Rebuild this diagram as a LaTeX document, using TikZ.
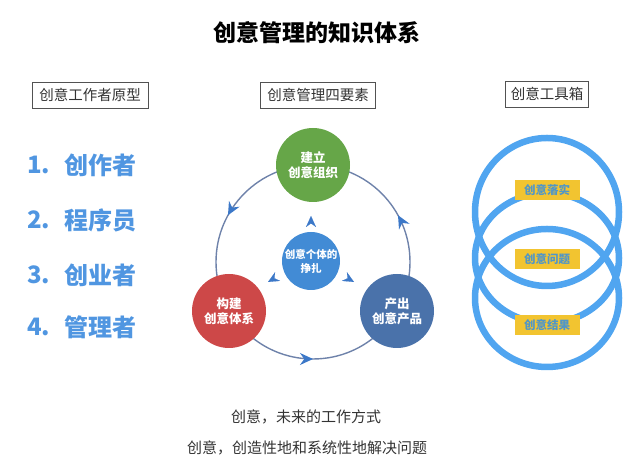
\documentclass[tikz,border=0pt]{standalone}
\usepackage{fontspec}
\setmainfont{Noto Sans CJK SC}
\usetikzlibrary{arrows.meta,decorations.markings}
\definecolor{cgreen}{RGB}{102,166,72}
\definecolor{cred}{RGB}{205,72,72}
\definecolor{cdblue}{RGB}{74,114,170}
\definecolor{ccblue}{RGB}{66,139,213}
\definecolor{listblue}{RGB}{80,150,225}
\definecolor{ringgray}{RGB}{110,130,170}
\definecolor{arrowblue}{RGB}{60,120,200}
\definecolor{ringblue}{RGB}{80,165,240}
\definecolor{cyellow}{RGB}{242,196,48}
\definecolor{labtext}{RGB}{80,150,200}
\definecolor{txtgray}{RGB}{51,51,51}
\tikzset{
  header/.style={draw=txtgray!85, line width=0.8pt, inner sep=0pt, minimum height=26pt, text=txtgray, font=\fontsize{14.5}{16}\selectfont},
  listnum/.style={anchor=west, text=listblue, font=\bfseries\fontsize{24}{28}\selectfont, inner sep=0pt},
  elem/.style={circle, minimum size=74pt, inner sep=0pt, text=white, align=center, font=\bfseries\fontsize{12.5}{15}\selectfont},
  tool/.style={fill=cyellow, minimum width=65pt, minimum height=20pt, inner sep=0pt, text=labtext, font=\bfseries\fontsize{11.5}{13}\selectfont},
  toolring/.style={draw=ringblue, line width=6.5pt},
  tip/.style={arrowblue, line width=0.1pt, -{Stealth[length=11pt,width=10pt]}},
  foot/.style={text=txtgray, font=\fontsize{15}{18}\selectfont, inner sep=0pt}
}
\begin{document}
\begin{tikzpicture}[x=1pt,y=1pt]
\useasboundingbox (0,0) rectangle (640,462);
% title
\node[font=\bfseries\fontsize{23}{27}\selectfont, text=black] (title) at (317,429) {创意管理的知识体系};
% headers
\node[header, minimum width=116pt] (h1) at (90,367) {创意工作者原型};
\node[header, minimum width=115pt] (h2) at (318,367) {创意管理四要素};
\node[header, minimum width=83pt] (h3) at (547,368) {创意工具箱};
% list
\node[listnum] (n1) at (27,297) {1.};
\node[listnum] (t1) at (64,297) {创作者};
\node[listnum] (n2) at (27,242) {2.};
\node[listnum] (t2) at (64,242) {程序员};
\node[listnum] (n3) at (27,187) {3.};
\node[listnum] (t3) at (64,187) {创业者};
\node[listnum] (n4) at (27,135) {4.};
\node[listnum] (t4) at (64,135) {管理者};
% cycle
\coordinate (cc) at (313,200);
\draw[ringgray, line width=1.4pt,
  postaction={decorate, decoration={markings,
    mark=at position 0.08 with {\arrow{Stealth[length=13pt,width=12pt,arrowblue]}},
    mark=at position 0.42 with {\arrow{Stealth[length=13pt,width=12pt,arrowblue]}},
    mark=at position 0.75 with {\arrow{Stealth[length=13pt,width=12pt,arrowblue]}}}}]
  (cc) ++(0:97) arc[start angle=0, end angle=360, radius=97];
\node[elem, fill=cgreen] (e1) at (313,297) {建立\\创意组织};
\node[elem, fill=cred] (e2) at (229,151) {构建\\创意体系};
\node[elem, fill=cdblue] (e3) at (397,151) {产出\\创意产品};
\node[circle, fill=ccblue, minimum size=58pt, inner sep=0pt, text=white, align=center,
  font=\bfseries\fontsize{10.5}{14}\selectfont] (core) at (311,201) {创意个体的\\挣扎};
\coordinate (a1s) at (311,238); \coordinate (a1e) at (311,246);
\coordinate (a2s) at (275,184); \coordinate (a2e) at (268,180);
\coordinate (a3s) at (347,184); \coordinate (a3e) at (354,180);
\draw[tip] (a1s) -- (a1e);
\draw[tip] (a2s) -- (a2e);
\draw[tip] (a3s) -- (a3e);
% tool rings
\draw[toolring] (547,250) ellipse[x radius=72, y radius=74];
\draw[toolring] (547,204) ellipse[x radius=72, y radius=65];
\draw[toolring] (547,164) ellipse[x radius=72, y radius=69];
\node[tool] (l1) at (547,272) {创意落实};
\node[tool] (l2) at (547,203) {创意问题};
\node[tool] (l3) at (547,137) {创意结果};
% footer
\node[foot] (f1) at (306,45) {创意，未来的工作方式};
\node[foot] (f2) at (307,14) {创意，创造性地和系统性地解决问题};
\end{tikzpicture}
\end{document}
